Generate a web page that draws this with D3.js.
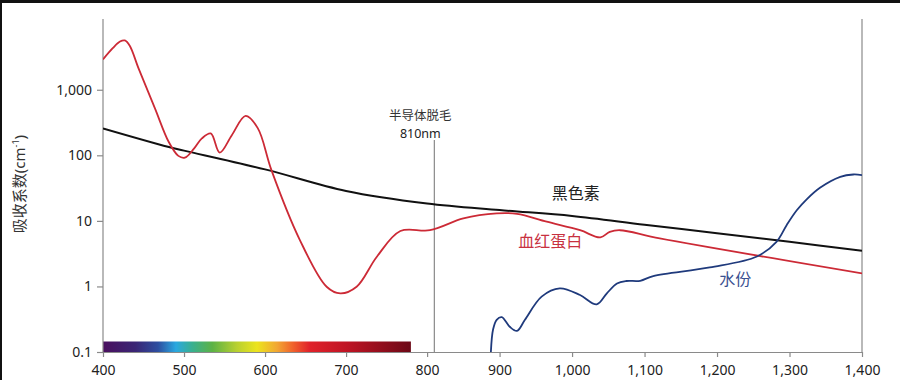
<!DOCTYPE html>
<html><head><meta charset="utf-8">
<script src="https://cdn.jsdelivr.net/npm/d3@7/dist/d3.min.js"></script>
<style>
body{margin:0;background:#fff;}
svg{display:block;}
text{font-family:"Noto Sans","Noto Sans CJK SC",sans-serif;}
</style></head>
<body><svg id="c" width="900" height="380"></svg>
<script>
// ---- data ----
const xTicks = [400,500,600,700,800,900,1000,1100,1200,1300,1400];
const yTicks = [0.1,1,10,100,1000];
const yTickLabels = ["0.1","1","10","100","1,000"];

// 血红蛋白 (hemoglobin): [wavelength nm, absorption coefficient cm^-1]
const hemoglobin = [
 [400,2900],[412,4300],[421,5450],[427,5650],[433,4700],[444,2100],[464,525],[481,161],[493,98],[501,92],[512,125],
 [522,181],[533,216],[544,110],[559,203],[576,400],[591,260],[608,59],[643,5.1],
 [676,0.99],[693,0.785],[713,0.99],[738,2.84],[767,7.0],[804,7.2],[850,10.9],
 [896,13],[924,12.8],[965,9.7],[1011,7.2],[1039,5.6],[1052,6.8],[1066,7.2],
 [1121,5.4],[1400,1.58]
];
// 黑色素 (melanin)
const melanin = [
 [400,257],[480,135],[500,118],[600,61],[700,28.6],[800,18.4],[900,14.6],
 [1000,11.9],[1100,8.75],[1200,6.5],[1300,4.8],[1400,3.5]
];
// 水份 (water)
const water = [
 [888,0.1],[891,0.22],[896,0.31],[903,0.34],[914,0.243],[924,0.21],[935,0.31],
 [958,0.70],[983,0.935],[1011,0.74],[1034,0.533],[1048,0.785],[1062,1.11],
 [1075,1.21],[1094,1.22],[1112,1.44],[1190,1.95],[1255,2.86],[1282,4.8],
 [1296,8.6],[1310,14.5],[1324,21.5],[1342,32],[1370,47],[1388,51],[1400,50]
];
const seriesLabels = [
 {text:"黑色素", nm:1005, v:21.7, color:"#222"},
 {text:"血红蛋白", nm:970, v:4.0, color:"#c8313f"},
 {text:"水份", nm:1225, v:1.05, color:"#3b5190"}
];
const marker = {nm:810, line1:"半导体脱毛", line2:"810nm"};
const visibleSpectrum = [400,780];
const axisTitle = "吸收系数(cm";

// ---- layout ----
const svg = d3.select("#c");
const L=103, R=862, T=19, B=352;
const x = d3.scaleLinear().domain([400,800,1400]).range([L, L+(R-L)*0.427, R]);
const y = d3.scaleLog().domain([0.1,12000]).range([B,T]);

// frame edges
svg.append("rect").attr("x",0).attr("y",0).attr("width",900).attr("height",3).attr("fill","#111");
svg.append("rect").attr("x",0).attr("y",0).attr("width",2).attr("height",380).attr("fill","#111");

// spectrum gradient
const defs = svg.append("defs");
const grad = defs.append("linearGradient").attr("id","spec").attr("x1","0").attr("x2","1").attr("y1","0").attr("y2","0");
const stops = [[400,"#4a0f5e"],[440,"#3a2575"],[468,"#2d4ea0"],[490,"#2aa8e0"],[510,"#38b090"],[535,"#5cb245"],
 [565,"#b8d030"],[590,"#ece41e"],[615,"#f2a632"],[635,"#f0602c"],[655,"#e0222a"],[700,"#c01424"],[780,"#6c0816"]];
stops.forEach(s=>grad.append("stop").attr("offset",((s[0]-400)/380*100)+"%").attr("stop-color",s[1]));
svg.append("rect").attr("x",x(visibleSpectrum[0])).attr("y",B-10.5)
  .attr("width",x(visibleSpectrum[1])-x(visibleSpectrum[0])).attr("height",10.5).attr("fill","url(#spec)");

// axes
const gx = svg.append("g").attr("transform",`translate(0,${B})`)
  .call(d3.axisBottom(x).tickValues(xTicks).tickFormat(d3.format(",")).tickSize(5).tickSizeOuter(0));
const gy = svg.append("g").attr("transform",`translate(${L},0)`)
  .call(d3.axisLeft(y).tickValues(yTicks).tickFormat((d,i)=>yTickLabels[i]).tickSize(6).tickSizeOuter(0));
[gx,gy].forEach(g=>{
  g.select(".domain").attr("stroke","#8a8a8a").attr("stroke-width",1.2);
  g.selectAll(".tick line").attr("stroke","#8a8a8a").attr("stroke-width",1.2);
  g.selectAll(".tick text").attr("fill","#222").style("font-size","14px");
});
gx.selectAll(".tick text").attr("dy","1.05em");
gy.selectAll(".tick text").attr("dx","-2");
gy.select(".domain").attr("d",`M0,${T}V${B}`);
// right border line
svg.append("line").attr("x1",R).attr("x2",R).attr("y1",T).attr("y2",B).attr("stroke","#8a8a8a").attr("stroke-width",1.2);

// y axis title
const yt = svg.append("text").attr("transform",`translate(25,184) rotate(-90)`)
  .attr("text-anchor","middle").attr("fill","#333").style("font-size","15px");
yt.append("tspan").text(axisTitle);
yt.append("tspan").text("-1").style("font-size","9px").attr("dy","-6");
yt.append("tspan").text(")").attr("dy","6");

// marker line + label
const mx = x(marker.nm);
svg.append("line").attr("x1",mx).attr("x2",mx).attr("y1",140).attr("y2",B)
  .attr("stroke","#8a8a8a").attr("stroke-width",1.2);
svg.append("text").attr("x",mx-14).attr("y",120).attr("text-anchor","middle")
  .attr("fill","#333").style("font-size","12.5px").style("font-family","'Noto Sans CJK SC',sans-serif")
  .text(marker.line1);
svg.append("text").attr("x",mx-14).attr("y",138).attr("text-anchor","middle")
  .attr("fill","#222").style("font-size","12.5px").text(marker.line2);

// clip
defs.append("clipPath").attr("id","plot").append("rect").attr("x",L).attr("y",T).attr("width",R-L).attr("height",B-T);

const line = d3.line().x(d=>x(d[0])).y(d=>y(d[1])).curve(d3.curveCatmullRom.alpha(0.5));
const g = svg.append("g").attr("clip-path","url(#plot)");
g.append("path").datum(melanin).attr("d",line).attr("fill","none").attr("stroke","#111").attr("stroke-width",2);
g.append("path").datum(hemoglobin).attr("d",line).attr("fill","none").attr("stroke","#cc2a36").attr("stroke-width",1.8);
g.append("path").datum(water).attr("d",line).attr("fill","none").attr("stroke","#1f3a7c").attr("stroke-width",1.8);

seriesLabels.forEach(l=>{
  svg.append("text").attr("x",x(l.nm)).attr("y",y(l.v)).attr("text-anchor","middle")
    .attr("fill",l.color).style("font-size","16px").style("font-family","'Noto Sans CJK SC',sans-serif").text(l.text);
});
</script></body></html>
